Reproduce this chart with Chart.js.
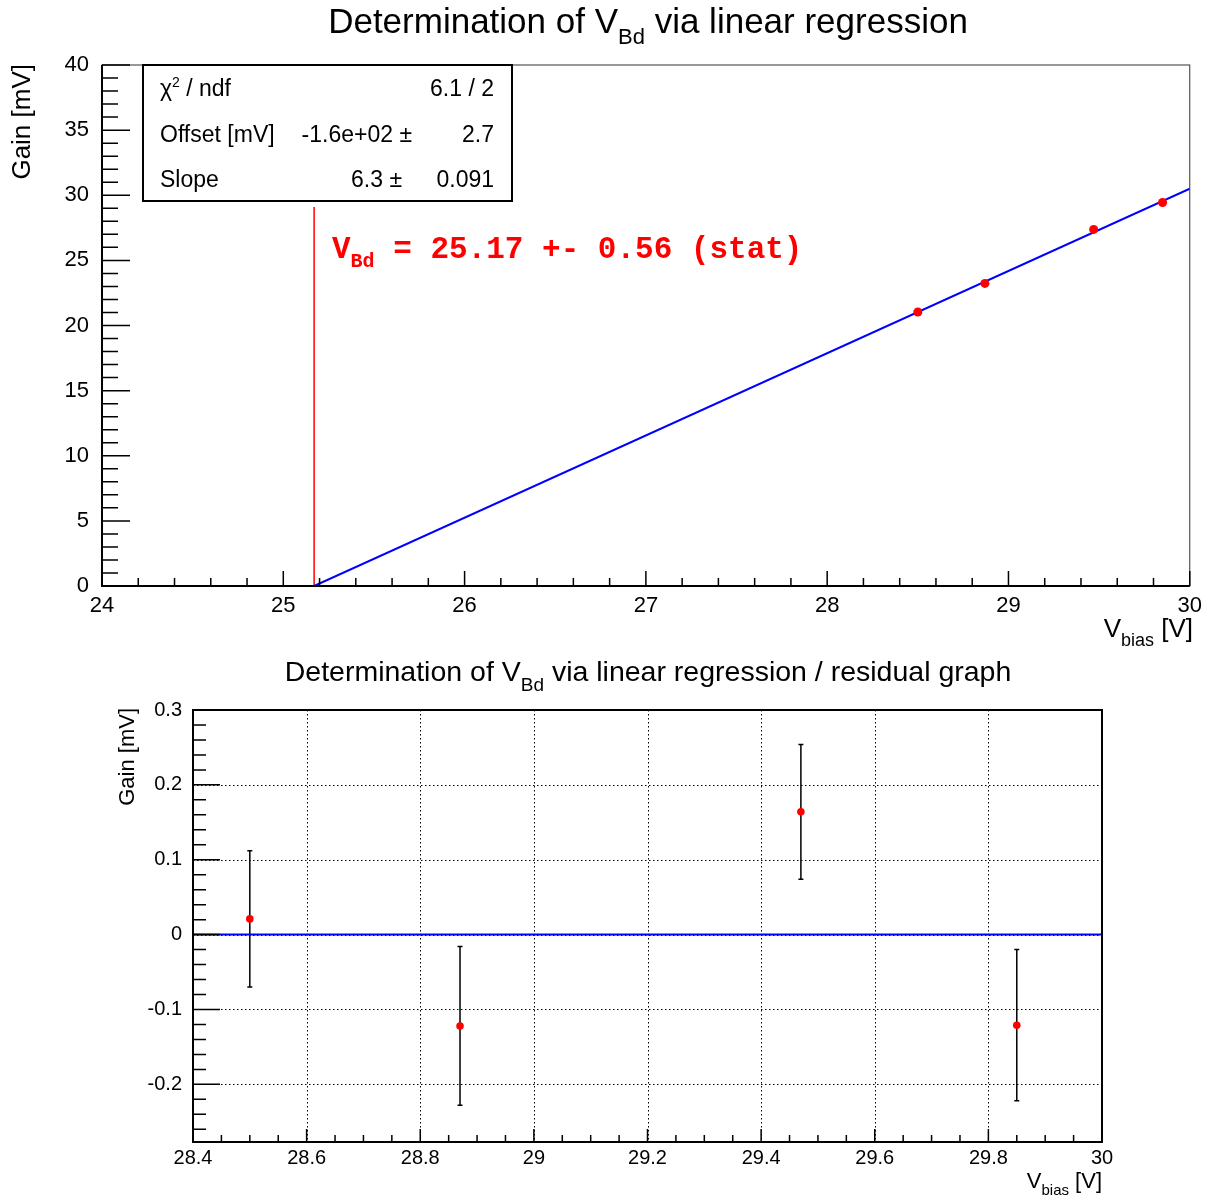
<!DOCTYPE html>
<html>
<head>
<meta charset="utf-8">
<script src="https://cdn.jsdelivr.net/npm/chart.js@4.4.0/dist/chart.umd.min.js"></script>
<style>
html, body { margin: 0; padding: 0; background: #fff; }
#wrap { position: relative; width: 1209px; height: 1195px; }
canvas { position: absolute; left: 0; }
#top { top: 0; }
#resid { top: 650px; }
</style>
</head>
<body>
<div id="wrap">
    <canvas id="top" width="1209" height="650"></canvas>
    <canvas id="resid" width="1209" height="545"></canvas>
</div>
<script>
// measured points
const vBias = [28.5, 28.87, 29.47, 29.85];
const gain = [21.04, 23.23, 27.38, 29.44];

// fit line and breakdown voltage marker
const fitX = [25.17, 30];
const fitY = [0, 30.5];
const vBd = 25.17;
const vBdLineY = [0, 29.1];

// residuals of the fit
const residual = [0.021, -0.122, 0.164, -0.121];
const residErr = [0.091, 0.106, 0.090, 0.101];

// tick labels
const topXTicks = [24, 25, 26, 27, 28, 29, 30];
const topYTicks = [0, 5, 10, 15, 20, 25, 30, 35, 40];
const resXTicks = [28.4, 28.6, 28.8, 29, 29.2, 29.4, 29.6, 29.8, 30];
const resYTicks = [-0.2, -0.1, 0, 0.1, 0.2, 0.3];

const FONT = '"Liberation Sans", Arial, Helvetica, sans-serif';
const MONO = '"Liberation Mono", "Courier New", monospace';

Chart.defaults.font.family = FONT;
Chart.defaults.color = '#000';

// ROOT-like frame settings per canvas
const frames = {
    top: {
        x: { major: 1, n: 5, majorLen: 15, minorLen: 8 },
        y: { major: 5, n: 5, majorLen: 28, minorLen: 16 },
        grid: false, edgeColor: '#333', edgeWidth: 1
    },
    resid: {
        x: { major: 0.2, n: 4, majorLen: 13, minorLen: 7 },
        y: { major: 0.1, n: 5, majorLen: 27, minorLen: 13 },
        grid: true, edgeColor: '#000', edgeWidth: 2
    }
};

function tickValues(scale, spec) {
    const step = spec.major / spec.n;
    const k0 = Math.ceil(scale.min / step - 1e-6);
    const k1 = Math.floor(scale.max / step + 1e-6);
    const out = [];
    for (let k = k0; k <= k1; k++) {
        out.push({ v: k * step, major: Math.abs(k % spec.n) === 0 });
    }
    return out;
}

function fnt(size, fam, weight) {
    return (weight || '') + ' ' + size + 'px ' + (fam || FONT);
}

// draw text made of parts [text, font, dy]
function rich(ctx, x, y, parts, align) {
    let w = 0;
    parts.forEach(p => { ctx.font = p[1]; w += ctx.measureText(p[0]).width; });
    let cx = align === 'right' ? x - w : align === 'center' ? x - w / 2 : x;
    ctx.textAlign = 'left';
    ctx.textBaseline = 'alphabetic';
    parts.forEach(p => {
        ctx.font = p[1];
        ctx.fillText(p[0], cx, y + (p[2] || 0));
        cx += ctx.measureText(p[0]).width;
    });
}

const rootStyle = {
    id: 'rootStyle',
    beforeDatasetsDraw(chart) {
        const spec = frames[chart.canvas.id];
        const { ctx, chartArea: a, scales: { x, y } } = chart;
        ctx.save();
        if (spec.grid) {
            ctx.strokeStyle = '#000';
            ctx.lineWidth = 1;
            ctx.setLineDash([1.5, 2.5]);
            ctx.beginPath();
            tickValues(x, spec.x).filter(t => t.major).forEach(t => {
                const px = Math.round(x.getPixelForValue(t.v)) + 0.5;
                ctx.moveTo(px, a.top);
                ctx.lineTo(px, a.bottom);
            });
            tickValues(y, spec.y).filter(t => t.major).forEach(t => {
                const py = Math.round(y.getPixelForValue(t.v)) + 0.5;
                ctx.moveTo(a.left, py);
                ctx.lineTo(a.right, py);
            });
            ctx.stroke();
            ctx.setLineDash([]);
        }
        if (chart.canvas.id === 'resid') {
            ctx.strokeStyle = '#000';
            ctx.lineWidth = 1.5;
            ctx.beginPath();
            vBias.forEach((v, i) => {
                const px = x.getPixelForValue(v);
                const y1 = y.getPixelForValue(residual[i] + residErr[i]);
                const y2 = y.getPixelForValue(residual[i] - residErr[i]);
                ctx.moveTo(px, y1); ctx.lineTo(px, y2);
                ctx.moveTo(px - 2.5, y1); ctx.lineTo(px + 2.5, y1);
                ctx.moveTo(px - 2.5, y2); ctx.lineTo(px + 2.5, y2);
            });
            ctx.stroke();
        }
        ctx.restore();
    },
    afterDatasetsDraw(chart) {
        const spec = frames[chart.canvas.id];
        const { ctx, chartArea: a, scales: { x, y } } = chart;
        ctx.save();
        ctx.strokeStyle = spec.edgeColor;
        ctx.lineWidth = spec.edgeWidth;
        ctx.strokeRect(a.left, a.top, a.right - a.left, a.bottom - a.top);
        ctx.strokeStyle = '#000';
        ctx.lineWidth = 2;
        ctx.beginPath();
        ctx.moveTo(a.left, a.top);
        ctx.lineTo(a.left, a.bottom);
        ctx.lineTo(a.right, a.bottom);
        ctx.stroke();
        ctx.lineWidth = 1.5;
        ctx.beginPath();
        tickValues(x, spec.x).forEach(t => {
            const px = x.getPixelForValue(t.v);
            ctx.moveTo(px, a.bottom);
            ctx.lineTo(px, a.bottom - (t.major ? spec.x.majorLen : spec.x.minorLen));
        });
        tickValues(y, spec.y).forEach(t => {
            const py = y.getPixelForValue(t.v);
            ctx.moveTo(a.left, py);
            ctx.lineTo(a.left + (t.major ? spec.y.majorLen : spec.y.minorLen), py);
        });
        ctx.stroke();
        ctx.restore();
    }
};

const topText = {
    id: 'topText',
    afterDraw(chart) {
        const ctx = chart.ctx;
        ctx.save();
        ctx.fillStyle = '#000';
        rich(ctx, 648, 33, [['Determination of V', fnt(35)], ['Bd', fnt(22), 11], [' via linear regression', fnt(35)]], 'center');
        rich(ctx, 1193, 637, [['V', fnt(26)], ['bias', fnt(18), 9], [' [V]', fnt(26)]], 'right');

        // stats box
        ctx.fillStyle = '#fff';
        ctx.fillRect(143, 65, 369, 136);
        ctx.strokeStyle = '#000';
        ctx.lineWidth = 2;
        ctx.strokeRect(143, 65, 369, 136);
        ctx.fillStyle = '#000';
        rich(ctx, 160, 96, [['\u03c7', fnt(23)], ['2', fnt(14), -9], [' / ndf', fnt(23)]], 'left');
        rich(ctx, 494, 96, [['6.1 / 2', fnt(23)]], 'right');
        rich(ctx, 160, 142, [['Offset [mV]', fnt(23)]], 'left');
        rich(ctx, 412, 142, [['-1.6e+02 \u00b1', fnt(23)]], 'right');
        rich(ctx, 494, 142, [['2.7', fnt(23)]], 'right');
        rich(ctx, 160, 187, [['Slope', fnt(23)]], 'left');
        rich(ctx, 402, 187, [['6.3 \u00b1', fnt(23)]], 'right');
        rich(ctx, 494, 187, [['0.091', fnt(23)]], 'right');

        // breakdown voltage label
        ctx.fillStyle = '#ff0000';
        rich(ctx, 332, 258, [['V', fnt(31, MONO, 'bold')], ['Bd', fnt(20, MONO, 'bold'), 9],
            [' = 25.17 +- 0.56 (stat)', fnt(31, MONO, 'bold')]], 'left');

        ctx.fillStyle = '#000';
        ctx.translate(30, 64);
        ctx.rotate(-Math.PI / 2);
        rich(ctx, 0, 0, [['Gain [mV]', fnt(26)]], 'right');
        ctx.restore();
    }
};

const residText = {
    id: 'residText',
    afterDraw(chart) {
        const ctx = chart.ctx;
        ctx.save();
        ctx.fillStyle = '#000';
        rich(ctx, 648, 31, [['Determination of V', fnt(28.5)], ['Bd', fnt(19), 10],
            [' via linear regression / residual graph', fnt(28.5)]], 'center');
        rich(ctx, 1102, 538, [['V', fnt(22)], ['bias', fnt(15), 7], [' [V]', fnt(22)]], 'right');
        ctx.translate(134, 58);
        ctx.rotate(-Math.PI / 2);
        rich(ctx, 0, 0, [['Gain [mV]', fnt(22)]], 'right');
        ctx.restore();
    }
};

const noGrid = { display: false, drawTicks: false };
const noBorder = { display: false };

new Chart(document.getElementById('top'), {
    type: 'scatter',
    data: {
        datasets: [
            {
                data: vBias.map((v, i) => ({ x: v, y: gain[i] })),
                pointRadius: 4.5,
                pointBackgroundColor: '#ff0000',
                pointBorderWidth: 0,
                showLine: false
            },
            {
                data: fitX.map((v, i) => ({ x: v, y: fitY[i] })),
                showLine: true,
                borderColor: '#0000ff',
                borderWidth: 2,
                pointRadius: 0
            },
            {
                data: vBdLineY.map(v => ({ x: vBd, y: v })),
                showLine: true,
                borderColor: '#ff0000',
                borderWidth: 1.5,
                pointRadius: 0
            }
        ]
    },
    options: {
        responsive: false,
        animation: false,
        devicePixelRatio: 1,
        events: [],
        layout: { padding: { top: 65, right: 16, bottom: 0, left: 0 } },
        plugins: { legend: { display: false }, tooltip: { enabled: false } },
        scales: {
            x: {
                type: 'linear', min: 24, max: 30,
                grid: noGrid, border: noBorder,
                afterBuildTicks: s => { s.ticks = topXTicks.map(v => ({ value: v })); },
                afterFit: s => { s.height = 64; },
                ticks: { font: { size: 22 }, padding: 7, maxRotation: 0, autoSkip: false }
            },
            y: {
                type: 'linear', min: 0, max: 40,
                grid: noGrid, border: noBorder,
                afterBuildTicks: s => { s.ticks = topYTicks.map(v => ({ value: v })); },
                afterFit: s => { s.width = 102; },
                ticks: { font: { size: 22 }, padding: 13, autoSkip: false }
            }
        }
    },
    plugins: [rootStyle, topText]
});

new Chart(document.getElementById('resid'), {
    type: 'scatter',
    data: {
        datasets: [
            {
                data: vBias.map((v, i) => ({ x: v, y: residual[i] })),
                pointRadius: 3.8,
                pointBackgroundColor: '#ff0000',
                pointBorderWidth: 0,
                showLine: false
            },
            {
                data: [{ x: 28.4, y: 0 }, { x: 30, y: 0 }],
                showLine: true,
                borderColor: '#0000ff',
                borderWidth: 2,
                pointRadius: 0
            }
        ]
    },
    options: {
        responsive: false,
        animation: false,
        devicePixelRatio: 1,
        events: [],
        layout: { padding: { top: 60, right: 107, bottom: 0, left: 0 } },
        plugins: { legend: { display: false }, tooltip: { enabled: false } },
        scales: {
            x: {
                type: 'linear', min: 28.4, max: 30,
                grid: noGrid, border: noBorder,
                afterBuildTicks: s => { s.ticks = resXTicks.map(v => ({ value: v })); },
                afterFit: s => { s.height = 53; },
                ticks: { font: { size: 20 }, padding: 4, maxRotation: 0, autoSkip: false,
                         callback: v => String(v) }
            },
            y: {
                type: 'linear', min: -0.277, max: 0.3,
                grid: noGrid, border: noBorder,
                afterBuildTicks: s => { s.ticks = resYTicks.map(v => ({ value: v })); },
                afterFit: s => { s.width = 193; },
                ticks: { font: { size: 20 }, padding: 11, autoSkip: false,
                         callback: v => String(v) }
            }
        }
    },
    plugins: [rootStyle, residText]
});
</script>
</body>
</html>
